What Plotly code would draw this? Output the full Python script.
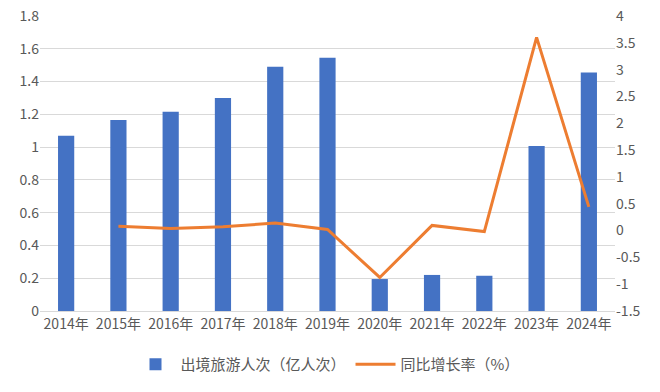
import plotly.graph_objects as go

years = ["2014年", "2015年", "2016年", "2017年", "2018年", "2019年",
         "2020年", "2021年", "2022年", "2023年", "2024年"]
trips = [1.07, 1.165, 1.215, 1.30, 1.49, 1.545, 0.195, 0.22, 0.215, 1.007, 1.455]
growth_years = years[1:]
growth = [0.08, 0.04, 0.07, 0.14, 0.02, -0.875, 0.095, -0.02, 3.6, 0.44]
left_ticks = [0, 0.2, 0.4, 0.6, 0.8, 1, 1.2, 1.4, 1.6, 1.8]
right_ticks = [-1.5, -1, -0.5, 0, 0.5, 1, 1.5, 2, 2.5, 3, 3.5, 4]

font = "Noto Sans CJK SC, Microsoft YaHei, sans-serif"
txt = "#595959"

fig = go.Figure()
fig.add_trace(go.Bar(x=years, y=trips, name="出境旅游人次（亿人次）",
                     marker=dict(color="#4472C4", line=dict(width=0)),
                     width=0.31, yaxis="y"))
fig.add_trace(go.Scatter(x=growth_years, y=growth, name="同比增长率（%）",
                         mode="lines", line=dict(color="#ED7D31", width=3),
                         yaxis="y2"))

fig.update_layout(
    width=660, height=392,
    margin=dict(l=40, r=45, t=15, b=81, autoexpand=False),
    paper_bgcolor="white", plot_bgcolor="white",
    font=dict(family=font, size=14, color=txt),
    showlegend=True,
    legend=dict(orientation="h", x=0.5, xanchor="center", y=-0.125, yanchor="top",
                font=dict(size=15, color=txt), itemwidth=40),
    xaxis=dict(type="category", showline=True, linecolor="#D9D9D9", linewidth=1,
               ticks="", tickfont=dict(size=14, color=txt), showgrid=False),
    yaxis=dict(range=[0, 1.806], tickmode="array", tickvals=left_ticks,
               ticktext=[f"{v:g}" for v in left_ticks], ticklabeloverflow="allow",
               showgrid=True, gridcolor="#D9D9D9",
               zeroline=False, ticks="", tickfont=dict(size=14, color=txt)),
    yaxis2=dict(range=[-1.5, 4.018], tickmode="array", tickvals=right_ticks,
                ticktext=[f"{v:g}" for v in right_ticks], ticklabeloverflow="allow",
                overlaying="y", side="right",
                showgrid=False, zeroline=False, ticks="",
                tickfont=dict(size=14, color=txt)),
)

fig.write_html("out.html", config={"displayModeBar": False},
               post_script="document.body.style.margin='0';document.body.style.overflow='hidden';")
